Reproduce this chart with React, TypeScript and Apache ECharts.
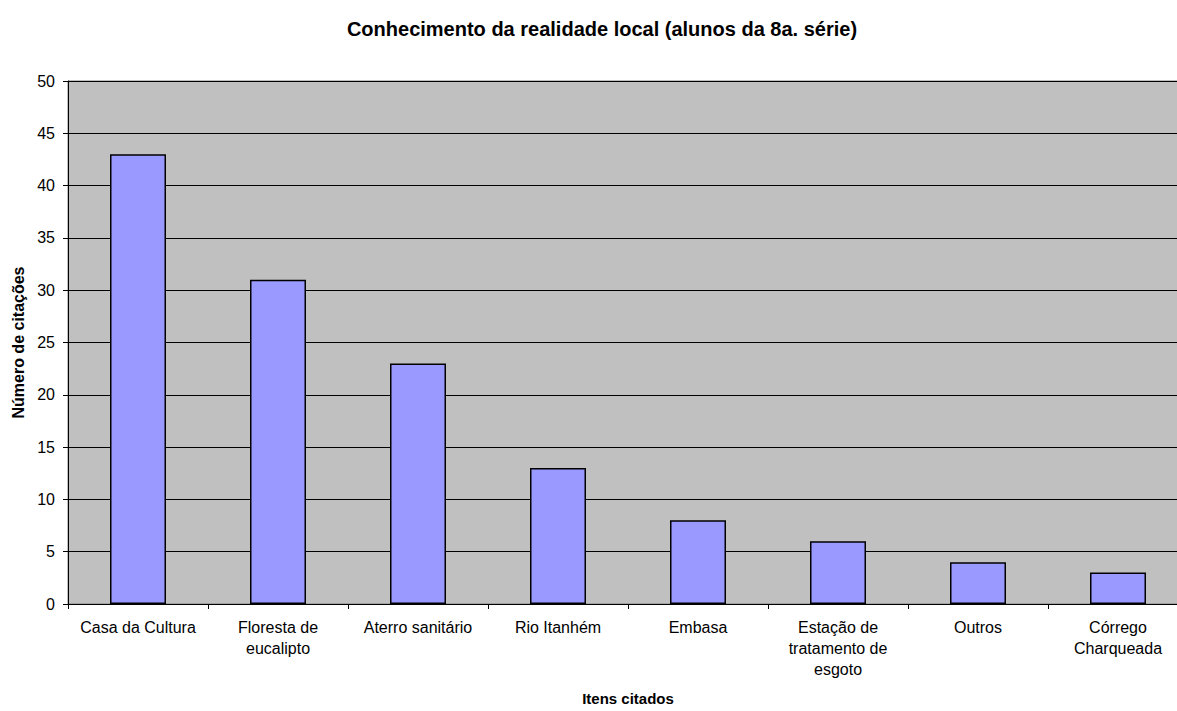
import React, { useEffect, useRef } from "react";
import * as echarts from "echarts";

const categories = [
  "Casa da Cultura",
  "Floresta de\neucalipto",
  "Aterro sanitário",
  "Rio Itanhém",
  "Embasa",
  "Estação de\ntratamento de\nesgoto",
  "Outros",
  "Córrego\nCharqueada",
];
const values = [43, 31, 23, 13, 8, 6, 4, 3];
const titleText = "Conhecimento da realidade local (alunos da 8a. série)";
const yName = "Número de citações";
const xName = "Itens citados";

const FONT = "'Liberation Sans', Arial, sans-serif";

export default function App() {
  const ref = useRef<HTMLDivElement>(null);
  useEffect(() => {
    if (!ref.current) return;
    const chart = echarts.init(ref.current, undefined, { renderer: "svg" });
    chart.setOption({
      animation: false,
      backgroundColor: "#ffffff",
      title: {
        text: titleText,
        left: 597,
        top: 14,
        textAlign: "center",
        textStyle: { fontFamily: FONT, fontSize: 20, fontWeight: "bold", color: "#000" },
      },
      grid: {
        left: 68,
        right: 12,
        top: 81,
        bottom: 102,
        show: true,
        backgroundColor: "#C0C0C0",
        borderColor: "#808080",
        borderWidth: 1,
      },
      xAxis: {
        type: "category",
        data: categories,
        name: xName,
        nameLocation: "middle",
        nameGap: 87,
        nameTextStyle: { fontFamily: FONT, fontSize: 15, fontWeight: "bold", color: "#000" },
        axisLine: { lineStyle: { color: "#000", width: 1 } },
        axisTick: { show: true, length: 5, lineStyle: { color: "#000" } },
        axisLabel: {
          fontFamily: FONT,
          fontSize: 16,
          color: "#000",
          lineHeight: 21,
          margin: 13,
          interval: 0,
        },
      },
      yAxis: {
        type: "value",
        min: 0,
        max: 50,
        interval: 5,
        name: yName,
        nameLocation: "middle",
        nameGap: 41,
        nameTextStyle: { fontFamily: FONT, fontSize: 16, fontWeight: "bold", color: "#000" },
        axisLine: { show: true, lineStyle: { color: "#000", width: 1 } },
        axisTick: { show: true, length: 5, lineStyle: { color: "#000" } },
        axisLabel: { fontFamily: FONT, fontSize: 16, color: "#000", margin: 13 },
        splitLine: { show: true, lineStyle: { color: "#000", width: 1 } },
      },
      series: [
        {
          type: "bar",
          data: values,
          barWidth: "40%",
          itemStyle: { color: "#9999FF", borderColor: "#000", borderWidth: 1.5 },
        },
      ],
    });
    return () => chart.dispose();
  }, []);
  return (
    <div style={{ position: "fixed", left: 0, top: 0, width: 1177, height: 711, overflow: "hidden", background: "#fff" }}>
      <div ref={ref} style={{ width: 1200, height: 711 }} />
    </div>
  );
}
